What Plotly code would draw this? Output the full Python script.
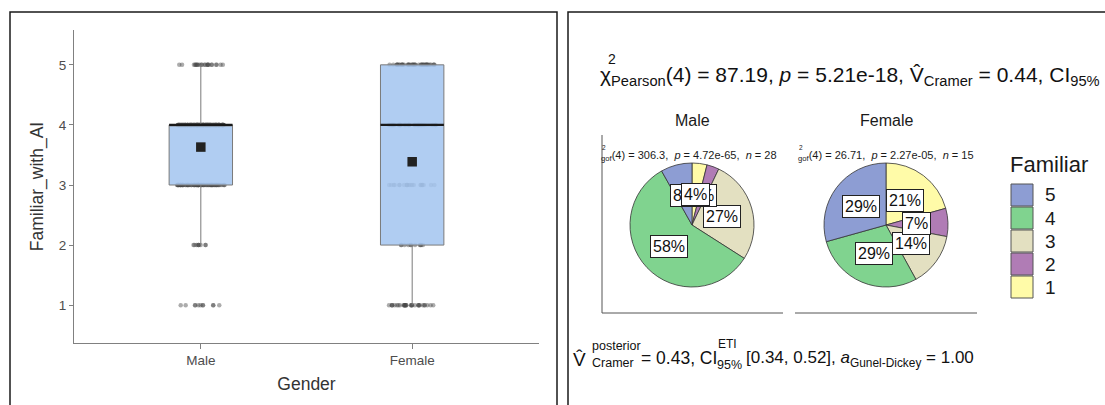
import math
import numpy as np
import plotly.graph_objects as go

# ---------------- data ----------------
levels = [1, 2, 3, 4, 5]
genders = ["Male", "Female"]
male_counts = [11, 9, 76, 163, 23]      # counts for levels 1..5
female_counts = [31, 11, 21, 43, 44]    # counts for levels 1..5
legend_order = [5, 4, 3, 2, 1]
level_colors = {5: "#8D9DD3", 4: "#80D38F", 3: "#E3E0C1", 2: "#B07CB5", 1: "#FFFBA8"}

title_text = ("χ<sub>Pearson</sub>(4) = 87.19, <i>p</i> = 5.21e-18, "
              "V̂<sub>Cramer</sub> = 0.44, CI<sub>95%</sub>")
gof_texts = ["<sub>gof</sub>(4) = 306.3,  <i>p</i> = 4.72e-65,  <i>n</i> = 28",
             "<sub>gof</sub>(4) = 26.71,  <i>p</i> = 2.27e-05,  <i>n</i> = 15"]

W, H = 1105, 405
FONT = "Liberation Sans, Arial, sans-serif"


def px(x):
    return x / W


def py(y):
    return 1 - y / H


def note(text, x, y, size, xanchor="left", color="#111111", **kw):
    d = dict(x=px(x), y=py(y), xref="paper", yref="paper", text=text, showarrow=False,
             xanchor=xanchor, yanchor="middle", font=dict(size=size, color=color, family=FONT))
    d.update(kw)
    return d


counts_by_gender = {"Male": male_counts, "Female": female_counts}
raw = {g: np.repeat(levels, counts_by_gender[g]) for g in genders}

fig = go.Figure()

# ---------------- left: box plot with points ----------------
box_w = 0.3
for i, g in enumerate(genders):
    pos = i + 1
    vals = raw[g]
    fig.add_trace(go.Box(
        x=np.full(len(vals), pos), y=vals, width=box_w,
        boxpoints="all", jitter=0.75, pointpos=0,
        fillcolor="rgba(0,0,0,0)", line=dict(width=0, color="rgba(0,0,0,0)"),
        marker=dict(color="rgba(70,70,70,0.45)", size=4.5),
        showlegend=False, hoverinfo="skip", xaxis="x", yaxis="y"))
for i, g in enumerate(genders):
    pos = i + 1
    vals = raw[g]
    fig.add_trace(go.Box(
        x=np.full(len(vals), pos), y=vals, width=box_w,
        boxpoints="outliers", whiskerwidth=0,
        fillcolor="rgba(165,198,240,0.88)", line=dict(width=1, color="#7a7a7a"),
        marker=dict(opacity=0, size=1),
        showlegend=False, hoverinfo="skip", xaxis="x", yaxis="y"))

med_x, med_y, mean_x, mean_y = [], [], [], []
for i, g in enumerate(genders):
    pos = i + 1
    m = float(np.median(raw[g]))
    med_x += [pos - box_w / 2, pos + box_w / 2, None]
    med_y += [m, m, None]
    mean_x.append(pos)
    mean_y.append(float(np.mean(raw[g])))
fig.add_trace(go.Scatter(x=med_x, y=med_y, mode="lines",
                         line=dict(color="#1a1a1a", width=2.2),
                         showlegend=False, hoverinfo="skip", xaxis="x", yaxis="y"))
fig.add_trace(go.Scatter(x=mean_x, y=mean_y, mode="markers",
                         marker=dict(symbol="square", size=9.5, color="#222222"),
                         showlegend=False, hoverinfo="skip", xaxis="x", yaxis="y"))

axis_col = "#808080"
fig.update_layout(
    xaxis=dict(domain=[px(74), px(539)], range=[0.4, 2.6], tickvals=[1, 2], ticktext=genders,
               showline=True, linecolor=axis_col, linewidth=1.3, ticks="outside", ticklen=5,
               tickcolor=axis_col, showgrid=False, zeroline=False,
               tickfont=dict(size=13.5, color="#4d4d4d", family=FONT),
               title=dict(text="Gender", font=dict(size=17.5, color="#333333", family=FONT), standoff=10),
               anchor="y"),
    yaxis=dict(domain=[py(343), py(30)], range=[0.37, 5.58], tickvals=levels,
               showline=True, linecolor=axis_col, linewidth=1.3, ticks="outside", ticklen=4,
               tickcolor=axis_col, showgrid=False, zeroline=False,
               tickfont=dict(size=13.5, color="#4d4d4d", family=FONT),
               title=dict(text="Familiar_with_AI", font=dict(size=17.5, color="#333333", family=FONT), standoff=10),
               anchor="x"),
)

# ---------------- right: pies ----------------
R = 62
centers = {"Male": (692, 225), "Female": (886, 225)}
annotations = []
for g in genders:
    cx, cy = centers[g]
    counts = counts_by_gender[g]
    fig.add_trace(go.Pie(
        labels=[str(l) for l in levels], values=counts, sort=False,
        direction="clockwise", rotation=0,
        marker=dict(colors=[level_colors[l] for l in levels], line=dict(color="#333333", width=0.8)),
        textinfo="none", hoverinfo="skip", showlegend=False,
        domain=dict(x=[px(cx - R), px(cx + R)], y=[py(cy + R), py(cy - R)])))
    total = sum(counts)
    cum = 0.0
    lab = {}
    for l in levels:
        f = counts[levels.index(l)] / total
        theta = 2 * math.pi * (cum + f / 2)
        cum += f
        lx = cx + 0.5 * R * math.sin(theta)
        ly = cy - 0.5 * R * math.cos(theta)
        lab[l] = (lx, ly, f"{round(100 * f)}%")
    for l in legend_order:
        lx, ly, t = lab[l]
        annotations.append(note(t, lx, ly, 16, xanchor="center", bgcolor="white",
                                bordercolor="#222222", borderwidth=1, borderpad=2))

# facet labels
for g in genders:
    cx, _ = centers[g]
    annotations.append(note(g, cx, 121, 16, xanchor="center", color="#1a1a1a"))

# gof subtitles
for g, t, x0 in zip(genders, gof_texts, [599, 796]):
    annotations.append(note(t, x0, 156, 11, color="#1a1a1a"))
    annotations.append(note("2", x0 + 1, 148, 6.5, color="#1a1a1a"))

# main title
annotations.append(note(title_text, 598, 76, 21))
annotations.append(note("2", 606, 59, 14))

# caption
cap = [("V̂", 571, 359, 19), ("posterior", 590, 346, 12.5), ("Cramer", 590, 363, 12.5),
       ("= 0.43, CI", 639, 358, 17.5), ("ETI", 716, 344, 12), ("95%", 715, 365, 12.5),
       ("[0.34, 0.52], <i>a</i><sub>Gunel-Dickey</sub> = 1.00", 744, 359, 17)]
for t, x0, y0, s in cap:
    annotations.append(note(t, x0, y0, s))

# legend (manual)
annotations.append(note("Familiar", 1008, 164, 22, color="#1a1a1a"))
shapes = []
for i, l in enumerate(legend_order):
    y0 = 184 + 23 * i
    shapes.append(dict(type="rect", xref="paper", yref="paper", x0=px(1011), x1=px(1033),
                       y0=py(y0 + 22), y1=py(y0), fillcolor=level_colors[l], line=dict(color="#555555", width=1)))
    annotations.append(note(str(l), 1043, y0 + 11, 19, color="#1a1a1a"))

# pie panel axis lines
for (x0, y0, x1, y1) in [(602, 135, 602, 313), (602, 313, 783, 313), (795, 313, 977, 313)]:
    shapes.append(dict(type="line", xref="paper", yref="paper", x0=px(x0), y0=py(y0), x1=px(x1), y1=py(y1),
                       line=dict(color="#555555", width=1)))

# panel frames
shapes.append(dict(type="rect", xref="paper", yref="paper", x0=px(10), x1=px(557), y0=py(420), y1=py(12),
                   line=dict(color="#1a1a1a", width=1.5), fillcolor="rgba(0,0,0,0)"))
shapes.append(dict(type="rect", xref="paper", yref="paper", x0=px(568), x1=px(1120), y0=py(420), y1=py(12),
                   line=dict(color="#1a1a1a", width=1.5), fillcolor="rgba(0,0,0,0)"))

fig.update_layout(
    width=W, height=H, margin=dict(l=0, r=0, t=0, b=0),
    paper_bgcolor="white", plot_bgcolor="white",
    annotations=annotations, shapes=shapes, showlegend=False,
    boxmode="overlay", font=dict(family=FONT),
)

fig.write_html("out.html", config={"displayModeBar": False},
               post_script="document.body.style.margin='0px';")
